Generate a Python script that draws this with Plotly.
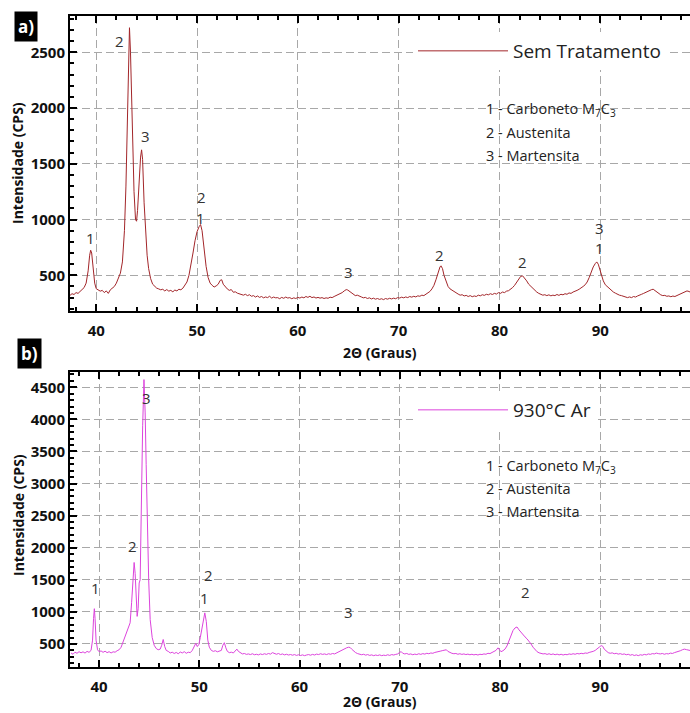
import plotly.graph_objects as go

# ---------------- data ----------------
xa = [37.4, 37.6, 37.8, 38.0, 38.2, 38.4, 38.6, 38.8, 39.0, 39.2, 39.35, 39.45, 39.55, 39.7, 39.85,
      40.0, 40.2, 40.4, 40.6, 40.8, 41.0, 41.2, 41.4, 41.6, 41.8, 42.0, 42.2, 42.4, 42.6, 42.8, 42.95,
      43.1, 43.2, 43.3, 43.4, 43.5, 43.6, 43.75, 43.9, 44.0, 44.1, 44.25, 44.4, 44.5, 44.6, 44.75, 44.9,
      45.05, 45.2, 45.4, 45.6, 45.8, 46.0, 46.2, 46.4, 46.6, 46.8, 47.0, 47.2, 47.4, 47.6, 47.8, 48.0,
      48.2, 48.4, 48.6, 48.8, 49.0, 49.2, 49.4, 49.6, 49.8, 50.0, 50.2, 50.35, 50.5, 50.7, 50.9, 51.1,
      51.3, 51.5, 51.7, 51.9, 52.1, 52.3, 52.45, 52.6, 52.8, 53.0, 53.2, 53.4, 53.6, 53.8, 54.0, 54.2,
      54.4, 54.6, 54.8, 55.0, 55.2, 55.4, 55.6, 55.8, 56.0, 56.2, 56.4, 56.6, 56.8, 57.0, 57.2, 57.4,
      57.6, 57.8, 58.0, 58.2, 58.4, 58.6, 58.8, 59.0, 59.2, 59.4, 59.6, 59.8, 60.0, 60.2, 60.4, 60.6,
      60.8, 61.0, 61.2, 61.4, 61.6, 61.8, 62.0, 62.2, 62.4, 62.6, 62.8, 63.0, 63.2, 63.4, 63.6, 63.8,
      64.0, 64.2, 64.4, 64.6, 64.8, 64.95, 65.1, 65.3, 65.5, 65.7, 65.9, 66.1, 66.3, 66.5, 66.7, 66.9,
      67.1, 67.3, 67.5, 67.7, 67.9, 68.1, 68.3, 68.5, 68.7, 68.9, 69.1, 69.3, 69.5, 69.7, 69.9, 70.1,
      70.3, 70.5, 70.7, 70.9, 71.1, 71.3, 71.5, 71.7, 71.9, 72.1, 72.3, 72.5, 72.7, 72.9, 73.1, 73.3,
      73.5, 73.7, 73.9, 74.1, 74.2, 74.35, 74.5, 74.7, 74.9, 75.1, 75.3, 75.5, 75.7, 75.9, 76.1, 76.3,
      76.5, 76.7, 76.9, 77.1, 77.3, 77.5, 77.7, 77.9, 78.1, 78.3, 78.5, 78.7, 78.9, 79.1, 79.3, 79.5,
      79.7, 79.9, 80.1, 80.3, 80.5, 80.7, 80.9, 81.1, 81.3, 81.5, 81.7, 81.9, 82.1, 82.3, 82.5, 82.7,
      82.9, 83.1, 83.3, 83.5, 83.7, 83.9, 84.1, 84.3, 84.5, 84.7, 84.9, 85.1, 85.3, 85.5, 85.7, 85.9,
      86.1, 86.3, 86.5, 86.7, 86.9, 87.1, 87.3, 87.5, 87.7, 87.9, 88.1, 88.3, 88.5, 88.7, 88.9, 89.1,
      89.3, 89.5, 89.65, 89.8, 89.95, 90.1, 90.3, 90.5, 90.7, 90.9, 91.1, 91.3, 91.5, 91.7, 91.9, 92.1,
      92.3, 92.5, 92.7, 92.9, 93.1, 93.3, 93.5, 93.7, 93.9, 94.1, 94.3, 94.5, 94.7, 94.9, 95.1, 95.25,
      95.4, 95.6, 95.8, 96.0, 96.2, 96.4, 96.6, 96.8, 97.0, 97.2, 97.4, 97.6, 97.8, 98.0, 98.2, 98.4,
      98.6, 98.8, 99.0]
ya = [320, 335, 328, 345, 338, 355, 372, 390, 430, 540, 680, 725, 700, 560, 430,
      380, 372, 358, 365, 345, 360, 338, 370, 385, 400, 430, 470, 520, 620, 900, 1300,
      1950, 2450, 2720, 2500, 2050, 1650, 1250, 1000, 985, 1080, 1350, 1560, 1625, 1540, 1150, 850,
      680, 560, 470, 420, 400, 385, 378, 370, 375, 360, 372, 358, 365, 352, 368, 360,
      375, 370, 385, 410, 440, 500, 590, 700, 810, 890, 935, 955, 900, 720, 580, 480,
      430, 410, 395, 405, 420, 455, 460, 420, 395, 378, 365, 372, 348, 352, 340, 335,
      330, 322, 330, 318, 326, 312, 318, 305, 315, 302, 310, 298, 306, 300, 312, 296,
      305, 298, 300, 290, 302, 294, 305, 296, 300, 290, 298, 292, 302, 296, 305, 298,
      310, 302, 312, 300, 306, 296, 302, 295, 300, 292, 298, 294, 304, 300, 310, 318,
      322, 330, 345, 360, 372, 368, 358, 340, 330, 318, 322, 310, 306, 298, 302, 292,
      298, 288, 295, 286, 292, 284, 290, 282, 292, 286, 294, 288, 295, 290, 300, 296,
      304, 298, 306, 300, 310, 304, 312, 306, 316, 312, 322, 318, 332, 340, 355, 378,
      410, 460, 530, 575, 585, 560, 500, 440, 400, 378, 365, 360, 340, 332, 322, 326,
      315, 320, 310, 318, 308, 315, 310, 322, 316, 326, 320, 330, 325, 335, 328, 338,
      332, 345, 338, 350, 345, 358, 362, 375, 390, 410, 440, 470, 490, 495, 475, 450,
      420, 400, 385, 365, 350, 338, 330, 322, 326, 318, 325, 316, 322, 318, 328, 320,
      330, 325, 335, 330, 342, 338, 350, 355, 365, 375, 385, 400, 415, 440, 480, 530,
      575, 605, 620, 600, 560, 500, 450, 415, 398, 375, 362, 350, 340, 330, 322, 318,
      310, 305, 300, 306, 300, 310, 305, 315, 320, 330, 338, 348, 358, 365, 372, 375,
      365, 350, 335, 325, 318, 320, 312, 315, 308, 314, 310, 318, 322, 330, 340, 352,
      360, 355, 345]

xb = [37.2, 37.4, 37.6, 37.8, 38.0, 38.2, 38.4, 38.6, 38.8, 39.0, 39.2, 39.35, 39.45, 39.53, 39.6,
      39.7, 39.85, 40.0, 40.2, 40.4, 40.6, 40.8, 41.0, 41.2, 41.4, 41.6, 41.8, 42.0, 42.2, 42.4, 42.6,
      42.8, 42.95, 43.1, 43.25, 43.4, 43.5, 43.6, 43.7, 43.8, 43.9, 44.0, 44.1, 44.2, 44.35, 44.48, 44.6,
      44.7, 44.8, 44.95, 45.1, 45.3, 45.5, 45.7, 45.9, 46.1, 46.25, 46.4, 46.55, 46.7, 46.9, 47.1, 47.3,
      47.5, 47.7, 47.9, 48.1, 48.3, 48.5, 48.7, 48.9, 49.1, 49.3, 49.5, 49.65, 49.8, 49.95, 50.1, 50.3,
      50.45, 50.55, 50.7, 50.85, 51.0, 51.2, 51.4, 51.6, 51.8, 52.0, 52.2, 52.35, 52.5, 52.65, 52.8, 53.0,
      53.2, 53.4, 53.6, 53.75, 53.9, 54.1, 54.3, 54.5, 54.7, 54.9, 55.1, 55.3, 55.5, 55.7, 55.9, 56.1,
      56.3, 56.5, 56.7, 56.9, 57.1, 57.3, 57.5, 57.7, 57.9, 58.1, 58.3, 58.5, 58.7, 58.9, 59.1, 59.3,
      59.5, 59.7, 59.9, 60.1, 60.3, 60.5, 60.7, 60.9, 61.1, 61.3, 61.5, 61.7, 61.9, 62.1, 62.3, 62.5,
      62.7, 62.9, 63.1, 63.3, 63.5, 63.7, 63.9, 64.1, 64.3, 64.5, 64.7, 64.9, 65.05, 65.2, 65.4, 65.6,
      65.8, 66.0, 66.2, 66.4, 66.6, 66.8, 67.0, 67.2, 67.4, 67.6, 67.8, 68.0, 68.2, 68.4, 68.6, 68.8,
      69.0, 69.2, 69.4, 69.6, 69.8, 70.0, 70.15, 70.3, 70.5, 70.7, 70.9, 71.1, 71.3, 71.5, 71.7, 71.9,
      72.1, 72.3, 72.5, 72.7, 72.9, 73.1, 73.3, 73.5, 73.7, 73.9, 74.1, 74.3, 74.5, 74.65, 74.8, 75.0,
      75.2, 75.4, 75.6, 75.8, 76.0, 76.2, 76.4, 76.6, 76.8, 77.0, 77.2, 77.4, 77.6, 77.8, 78.0, 78.2,
      78.4, 78.6, 78.8, 79.0, 79.2, 79.4, 79.6, 79.8, 79.95, 80.1, 80.3, 80.5, 80.7, 80.9, 81.1, 81.3,
      81.5, 81.7, 81.9, 82.1, 82.3, 82.5, 82.7, 82.9, 83.1, 83.3, 83.5, 83.7, 83.9, 84.1, 84.3, 84.5,
      84.7, 84.9, 85.1, 85.3, 85.5, 85.7, 85.9, 86.1, 86.3, 86.5, 86.7, 86.9, 87.1, 87.3, 87.5, 87.7,
      87.9, 88.1, 88.3, 88.5, 88.7, 88.9, 89.1, 89.3, 89.5, 89.7, 89.9, 90.1, 90.25, 90.4, 90.6, 90.8,
      91.0, 91.2, 91.4, 91.6, 91.8, 92.0, 92.2, 92.4, 92.6, 92.8, 93.0, 93.2, 93.4, 93.6, 93.8, 94.0,
      94.2, 94.4, 94.6, 94.8, 95.0, 95.2, 95.4, 95.6, 95.8, 96.0, 96.2, 96.4, 96.6, 96.8, 97.0, 97.2,
      97.4, 97.6, 97.8, 98.0, 98.2, 98.4, 98.6, 98.8, 99.0]
yb = [360, 340, 372, 355, 380, 362, 378, 358, 385, 370, 400, 560, 900, 1050, 900,
      560, 410, 380, 392, 370, 388, 365, 380, 360, 378, 372, 395, 410, 450, 530, 640,
      700, 760, 830, 1150, 1600, 1770, 1600, 1150, 930, 1050, 1450, 1500, 2600, 3900, 4620, 4100,
      3300, 2500, 1500, 880, 600, 480, 430, 410, 420, 480, 570, 460, 400, 385, 360, 372,
      352, 368, 348, 375, 360, 380, 355, 372, 365, 400, 470, 510, 460, 490, 600, 800,
      960, 985, 850, 560, 450, 400, 385, 395, 378, 385, 400, 480, 520, 440, 385, 365,
      372, 360, 390, 420, 385, 360, 345, 352, 338, 345, 335, 348, 332, 340, 330, 345,
      335, 348, 338, 352, 342, 365, 350, 340, 352, 335, 345, 330, 340, 328, 336, 325,
      335, 322, 332, 320, 330, 318, 328, 335, 325, 338, 328, 342, 335, 348, 338, 345,
      335, 348, 340, 352, 345, 362, 375, 390, 405, 420, 440, 450, 445, 420, 390, 365,
      350, 340, 332, 340, 326, 335, 322, 330, 318, 328, 320, 330, 318, 326, 320, 332,
      322, 335, 328, 338, 345, 370, 380, 355, 345, 352, 338, 345, 332, 342, 335, 348,
      338, 350, 342, 355, 348, 360, 355, 368, 372, 382, 390, 398, 405, 410, 385, 365,
      355, 348, 352, 340, 348, 338, 345, 335, 342, 332, 340, 330, 338, 328, 340, 335,
      345, 340, 355, 350, 365, 375, 400, 440, 410, 380, 395, 420, 470, 560, 650, 710,
      750, 765, 720, 680, 650, 610, 580, 545, 500, 450, 410, 380, 362, 352, 345, 350,
      338, 348, 335, 345, 332, 342, 330, 340, 328, 338, 332, 345, 338, 348, 340, 352,
      345, 355, 348, 360, 355, 368, 372, 385, 400, 420, 450, 475, 465, 420, 385, 365,
      355, 362, 348, 355, 342, 350, 338, 345, 332, 340, 325, 335, 320, 330, 318, 332,
      325, 338, 330, 345, 338, 350, 345, 358, 350, 345, 352, 340, 350, 345, 358, 352,
      365, 372, 385, 395, 410, 420, 412, 405, 398]

# peak labels: (x, y, text)
peaks_a_x = [42.3, 44.9, 39.4, 50.4, 50.3, 65.0, 74.1, 82.3, 89.95, 89.9]
peaks_a_y = [2604, 1749, 832, 1205, 1011, 532, 682, 622, 921, 742]
peaks_a_t = ["2", "3", "1", "2", "1", "3", "2", "2", "3", "1"]

peaks_b_x = [44.77, 43.37, 39.6, 50.92, 50.52, 64.85, 82.56]
peaks_b_y = [4329, 2027, 1368, 1576, 1213, 1004, 1316]
peaks_b_t = ["3", "2", "1", "2", "1", "3", "2"]

phase_lines = ["1 - Carboneto M<sub>7</sub>C<sub>3</sub>", "2 - Austenita", "3 - Martensita"]
name_a = "Sem Tratamento"
name_b = "930°C Ar"
color_a = "#a3262a"
color_b = "#dc44dc"

W, H = 690, 713
FONT = "Open Sans"


def px_x(p):
    return p / W


def px_y(p):
    return 1 - p / H


fig = go.Figure()
fig.add_trace(go.Scatter(x=xa, y=ya, mode="lines", name=name_a, xaxis="x", yaxis="y",
                         line=dict(color=color_a, width=1), legend="legend"))
fig.add_trace(go.Scatter(x=xb, y=yb, mode="lines", name=name_b, xaxis="x2", yaxis="y2",
                         line=dict(color=color_b, width=1), legend="legend2"))

tickfont = dict(family=FONT, size=15, color="#111", weight="bold")
common_x = dict(showline=True, linecolor="black", linewidth=2, mirror="ticks", automargin=False,
                ticks="inside", ticklen=7, tickwidth=1.5, tickcolor="black", dtick=10, tick0=0,
                minor=dict(ticks="inside", ticklen=4, dtick=2, tickcolor="black", showgrid=False),
                showgrid=True, gridcolor="#a8a8a8", griddash="8px,4px", gridwidth=1,
                tickfont=tickfont, zeroline=False, ticklabelstandoff=5)
common_y = dict(showline=True, linecolor="black", linewidth=2, mirror=False, automargin=False,
                ticks="inside", ticklen=7, tickwidth=1.5, tickcolor="black", dtick=500, tick0=0,
                minor=dict(ticks="inside", ticklen=4, dtick=100, tickcolor="black", showgrid=False),
                showgrid=True, gridcolor="#a8a8a8", griddash="8px,4px", gridwidth=1,
                tickfont=tickfont, zeroline=False)

dom_x = [px_x(70), 1.0]
fig.update_layout(
    width=W, height=H, margin=dict(l=0, r=0, t=0, b=0, autoexpand=False),
    paper_bgcolor="white", plot_bgcolor="white",
    xaxis=dict(domain=dom_x, range=[37.4, 98.9], anchor="y", **common_x),
    yaxis=dict(domain=[px_y(311), px_y(16)], range=[180, 2825], anchor="x", **common_y),
    xaxis2=dict(domain=dom_x, range=[37.1, 98.96], anchor="y2", **common_x),
    yaxis2=dict(domain=[px_y(666.7), px_y(371.7)], range=[146, 4743], anchor="x2", **common_y),
    legend=dict(x=px_x(413), y=px_y(32), xanchor="left", yanchor="top", bgcolor="white",
                font=dict(family=FONT, size=19, color="#222"), itemwidth=90,
                borderwidth=0),
    legend2=dict(x=px_x(413), y=px_y(391), xanchor="left", yanchor="top", bgcolor="white",
                 font=dict(family=FONT, size=19, color="#222"), itemwidth=90,
                 borderwidth=0),
    showlegend=True,
)

ann = []
for x, y, t in zip(peaks_a_x, peaks_a_y, peaks_a_t):
    ann.append(dict(x=x, y=y, xref="x", yref="y", text=t, showarrow=False,
                    font=dict(family=FONT, size=15, color="#333")))
for x, y, t in zip(peaks_b_x, peaks_b_y, peaks_b_t):
    ann.append(dict(x=x, y=y, xref="x2", yref="y2", text=t, showarrow=False,
                    font=dict(family=FONT, size=15, color="#333")))

for i, t in enumerate(phase_lines):
    ann.append(dict(x=px_x(484), y=px_y(110 + 22.7 * i), xref="paper", yref="paper", text=t,
                    showarrow=False, xanchor="left", yanchor="middle",
                    font=dict(family=FONT, size=14.5, color="#222")))
    ann.append(dict(x=px_x(484), y=px_y(466 + 22.8 * i), xref="paper", yref="paper", text=t,
                    showarrow=False, xanchor="left", yanchor="middle",
                    font=dict(family=FONT, size=14.5, color="#222")))

# axis titles
for cy in (352, 701):
    ann.append(dict(x=px_x(380), y=px_y(cy), xref="paper", yref="paper", text="2Θ (Graus)",
                    showarrow=False, xanchor="center", yanchor="middle",
                    font=dict(family=FONT, size=14, color="#111", weight="bold")))
for cy in (163, 515):
    ann.append(dict(x=px_x(18), y=px_y(cy), xref="paper", yref="paper", text="Intensidade (CPS)",
                    textangle=-90, showarrow=False, xanchor="center", yanchor="middle",
                    font=dict(family=FONT, size=14, color="#111", weight="bold")))

# panel tags
for t, cx, cy in (("a)", 25.5, 26.7), ("b)", 29.5, 353.3)):
    ann.append(dict(x=px_x(cx), y=px_y(cy), xref="paper", yref="paper", text=t,
                    showarrow=False, xanchor="center", yanchor="middle", bgcolor="black",
                    borderpad=3, font=dict(family=FONT, size=17, color="white", weight="bold")))

fig.update_layout(annotations=ann)
fig.write_html("out.html", config={"displayModeBar": False},
               post_script="document.body.style.margin='0';document.body.style.overflow='hidden';")
